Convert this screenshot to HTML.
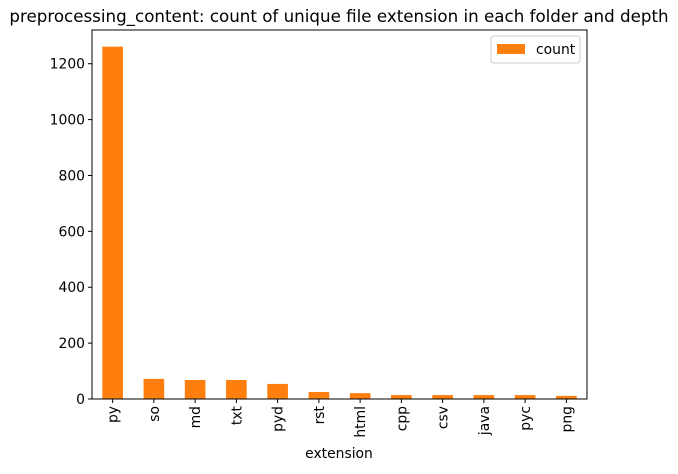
<!DOCTYPE html>
<html><head><meta charset="utf-8"><style>
body{margin:0;background:#fff;font-family:"DejaVu Sans","Liberation Sans",sans-serif}
</style></head><body>
<svg id="chart" width="678" height="470" xmlns="http://www.w3.org/2000/svg" font-family="DejaVu Sans, Liberation Sans, sans-serif">
<text x="339" y="22" text-anchor="middle" font-size="16.7">preprocessing_content: count of unique file extension in each folder and depth</text>
<g id="bars"></g>
<g id="axes"></g>
<rect x="92" y="30" width="495" height="369" fill="none" stroke="#000" stroke-width="1"/>
<g>
<rect x="491" y="36" width="89" height="27" rx="3" fill="#fff" stroke="#ccc"/>
<rect x="497" y="44" width="28" height="10" fill="#ff7f0e"/>
<text x="536" y="54" font-size="13.9">count</text>
</g>
<text x="339" y="458" text-anchor="middle" font-size="13.9">extension</text>
</svg>
<script>
const categories=["py","so","md","txt","pyd","rst","html","cpp","csv","java","pyc","png"];
const counts=[1261,72,68,68,54,25,21,14,14,14,14,11];
const yTicks=[0,200,400,600,800,1000,1200];
const L=92,R=587,T=30,B=399,PX=0.2794;
const ns="http://www.w3.org/2000/svg";
const step=(R-L)/categories.length;
const x=i=>L+step*(i+0.5);
const y=v=>B-v*PX;
const bars=document.getElementById('bars'),axes=document.getElementById('axes');
function mk(t,a,p){const e=document.createElementNS(ns,t);for(const k in a)e.setAttribute(k,a[k]);p.appendChild(e);return e;}
categories.forEach((c,i)=>{
 const r=mk('rect',{x:x(i)-step/4,y:y(counts[i]),width:step/2,height:counts[i]*PX,fill:'#ff7f0e'},bars);
 
 
 const t=mk('line',{x1:x(i),x2:x(i),y1:B,y2:B+4,stroke:'#000'},axes);
 
 
 const lb=mk('text',{x:0,y:0,'font-size':13.9,'text-anchor':'end',transform:`translate(${x(i)+5},${B+7}) rotate(-90)`},axes);
 lb.textContent=c;
 
 
});
yTicks.forEach(v=>{
 const t=mk('line',{x1:L-4,x2:L,y1:y(v),y2:y(v),stroke:'#000'},axes);
 
 
 const lb=mk('text',{x:L-7,y:y(v)+5,'font-size':13.9,'text-anchor':'end'},axes);
 lb.textContent=v;
 
 
});
</script>
</body></html>
